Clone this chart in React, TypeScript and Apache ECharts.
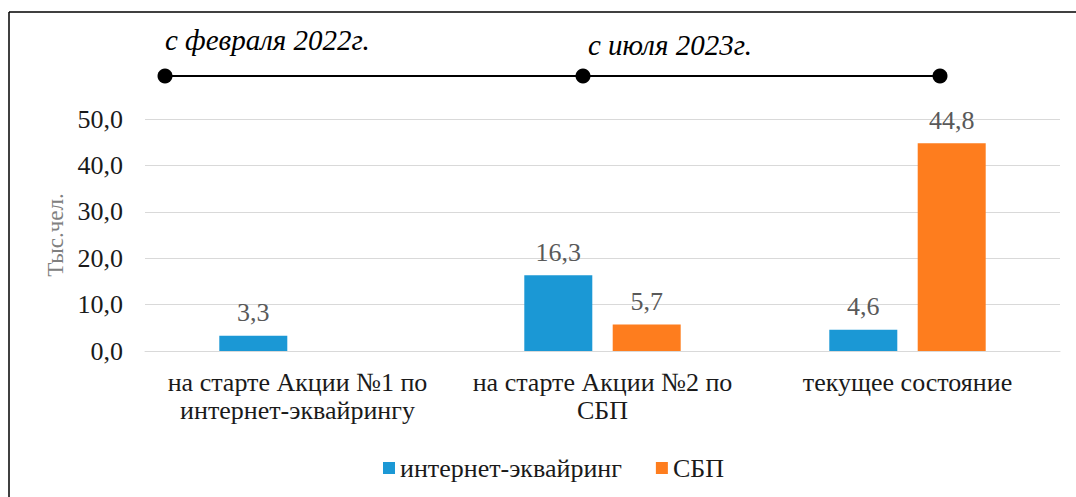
import React, { useEffect, useRef } from "react";
import * as echarts from "echarts";

const categories = [
  "на старте Акции №1 по\nинтернет-эквайрингу",
  "на старте Акции №2 по\nСБП",
  "текущее состояние",
];
const internetValues: (number | null)[] = [3.3, 16.3, 4.6];
const sbpValues: (number | null)[] = [null, 5.7, 44.8];
const seriesNames = ["интернет-эквайринг", "СБП"];
const yTicks = { min: 0, max: 50, interval: 10 };
const axisName = "Тыс.чел.";
const timelineLabels = ["с февраля 2022г.", "с июля 2023г."];

const SERIF = "Liberation Serif";
const fmt = (v: number) => v.toFixed(1).replace(".", ",");

export default function App() {
  const ref = useRef<HTMLDivElement>(null);
  useEffect(() => {
    if (!ref.current) return;
    const chart = echarts.init(ref.current, null, { renderer: "svg" });
    const labelStyle = {
      show: true,
      position: "top" as const,
      distance: 10,
      fontSize: 26,
      fontFamily: SERIF,
      color: "#595959",
      formatter: (p: any) => (p.value == null ? "" : fmt(p.value)),
    };
    chart.setOption({
      animation: false,
      backgroundColor: "#fff",
      textStyle: { fontFamily: SERIF },
      grid: { left: 145, right: 16, top: 119, bottom: 146 },
      legend: {
        left: 383,
        top: 455,
        padding: 0,
        icon: "rect",
        itemWidth: 12,
        itemHeight: 12,
        itemGap: 34,
        textStyle: { fontSize: 26, fontFamily: SERIF, color: "#1a1a1a" },
        data: seriesNames,
      },
      xAxis: {
        type: "category",
        data: categories,
        axisLine: { show: true, lineStyle: { color: "#d9d9d9", width: 1 } },
        axisTick: { show: false },
        axisLabel: {
          interval: 0,
          margin: 17,
          fontSize: 26,
          lineHeight: 28,
          fontFamily: SERIF,
          color: "#1a1a1a",
        },
      },
      yAxis: {
        type: "value",
        min: yTicks.min,
        max: yTicks.max,
        interval: yTicks.interval,
        name: axisName,
        nameLocation: "middle",
        nameRotate: 90,
        nameGap: 77,
        nameTextStyle: { fontSize: 23, fontFamily: SERIF, color: "#808080" },
        axisLine: { show: false },
        axisTick: { show: false },
        splitLine: { lineStyle: { color: "#d9d9d9", width: 1 } },
        axisLabel: {
          margin: 22,
          fontSize: 26,
          fontFamily: SERIF,
          color: "#1a1a1a",
          formatter: (v: number) => fmt(v),
        },
      },
      series: [
        {
          name: seriesNames[0],
          type: "bar",
          data: internetValues,
          barWidth: 68,
          barGap: "30%",
          itemStyle: { color: "#1b98d5" },
          label: labelStyle,
        },
        {
          name: seriesNames[1],
          type: "bar",
          data: sbpValues,
          barWidth: 68,
          barGap: "30%",
          itemStyle: { color: "#fe7d1e" },
          label: labelStyle,
        },
      ],
      graphic: [
        { type: "line", shape: { x1: 9, y1: 12, x2: 1076, y2: 12 }, style: { stroke: "#000", lineWidth: 1.5 } },
        { type: "line", shape: { x1: 9, y1: 12, x2: 9, y2: 497 }, style: { stroke: "#000", lineWidth: 1.5 } },
        { type: "line", shape: { x1: 165, y1: 76, x2: 940, y2: 76 }, style: { stroke: "#000", lineWidth: 2 } },
        { type: "circle", shape: { cx: 165, cy: 76, r: 7.5 }, style: { fill: "#000" } },
        { type: "circle", shape: { cx: 583, cy: 76, r: 7.5 }, style: { fill: "#000" } },
        { type: "circle", shape: { cx: 940, cy: 76, r: 7.5 }, style: { fill: "#000" } },
        {
          type: "text",
          x: 165,
          y: 40,
          style: {
            text: timelineLabels[0],
            fontSize: 29,
            fontStyle: "italic",
            fontFamily: SERIF,
            fill: "#000",
            verticalAlign: "middle",
            align: "left",
          },
        },
        {
          type: "text",
          x: 588,
          y: 45,
          style: {
            text: timelineLabels[1],
            fontSize: 29,
            fontStyle: "italic",
            fontFamily: SERIF,
            fill: "#000",
            verticalAlign: "middle",
            align: "left",
          },
        },
      ],
    });
    return () => chart.dispose();
  }, []);
  return (
    <div
      ref={ref}
      style={{ position: "fixed", left: 0, top: 0, width: 1076, height: 497 }}
    />
  );
}
